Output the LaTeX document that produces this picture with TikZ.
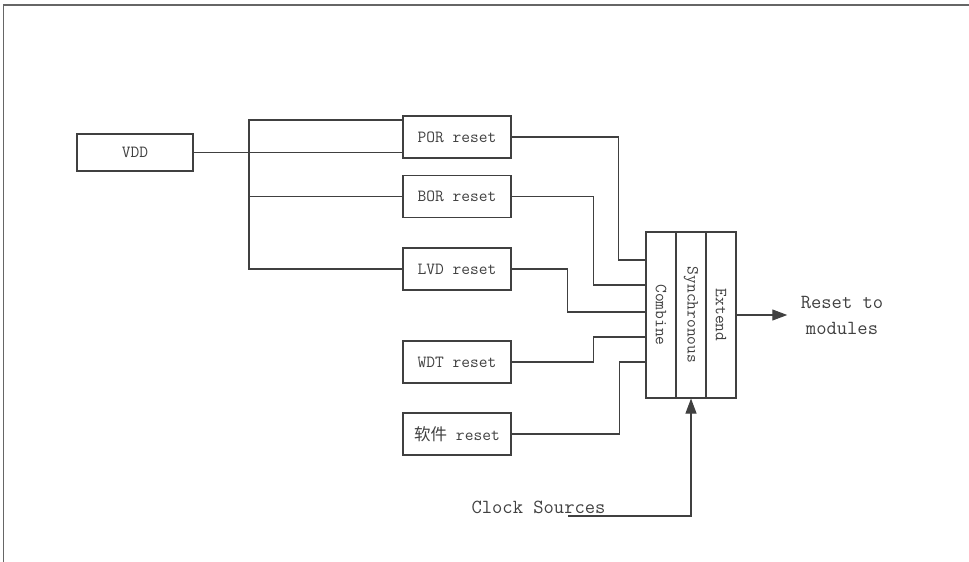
\documentclass[tikz,border=0pt]{standalone}
\usepackage{fontspec}
\newfontfamily\cjk{Noto Sans CJK SC}
\usetikzlibrary{arrows.meta}

\begin{document}
\begin{tikzpicture}[x=1pt, y=1pt, line width=1.1pt, color=black!75,
	box/.style={draw, minimum width=108pt, minimum height=42pt, inner sep=0pt, font=\ttfamily\fontsize{17}{20}\selectfont},
	col/.style={draw, minimum width=30pt, minimum height=166pt, inner sep=0pt, font=\ttfamily\fontsize{17}{20}\selectfont},
	big/.style={font=\ttfamily\fontsize{20}{26}\selectfont, align=center},
	arr/.style={-{Triangle[length=15pt,width=11pt]}}]
			\useasboundingbox (0,0) rectangle (969,-562);
			\draw[line width=1.5pt, black!60] (3.5,-562) -- (3.5,-5) -- (969,-5);
			
			\node[box, minimum width=116pt, minimum height=37pt] (vdd) at (135,-152.5) {VDD};
			\node[box] (por) at (457,-137) {POR reset};
			\node[box, below of=por, node distance=59.5pt] (bor) {BOR reset};
			\node[box, below of=bor, node distance=72.5pt] (lvd) {LVD reset};
			\node[box, below of=lvd, node distance=93pt] (wdt) {WDT reset};
			\node[box, below of=wdt, node distance=72pt] (sw) {{\cjk\fontsize{16.5}{18}\selectfont 软件} reset};
			\node[col] (comb) at (661,-315) {\rotatebox{-90}{Combine}};
			\node[col, right of=comb, node distance=30pt] (sync) {\rotatebox{-90}{Synchronous}};
			\node[col, right of=sync, node distance=30pt] (ext) {\rotatebox{-90}{Extend}};
			\node[big, right of=ext, node distance=121pt, inner xsep=13pt] (out) {Reset to\\modules};
			\node[big, anchor=base] (clk) at (538.5,-513) {Clock Sources};
			\coordinate (split) at (249,0);
			\coordinate (clkin) at (568,-516);
			
			\draw (vdd) -- (vdd -| por.west);
			\draw ([yshift=17pt]por.west) -| (split |- lvd.west) -- (lvd.west);
			\draw (split |- bor.west) -- (bor.west);
			\draw (por.east) -| ([shift={(-27pt,55pt)}]comb.west) -- ([yshift=55pt]comb.west);
			\draw (bor.east) -| ([shift={(-52pt,30pt)}]comb.west) -- ([yshift=30pt]comb.west);
			\draw (lvd.east) -| ([shift={(-78pt,3pt)}]comb.west) -- ([yshift=3pt]comb.west);
			\draw (wdt.east) -| ([shift={(-52pt,-22pt)}]comb.west) -- ([yshift=-22pt]comb.west);
			\draw (sw.east) -| ([shift={(-26pt,-47pt)}]comb.west) -- ([yshift=-47pt]comb.west);
			\draw[arr] (ext) -- (out);
			\draw[arr] (clkin) -| (sync.south);
		\end{tikzpicture}
\end{document}
